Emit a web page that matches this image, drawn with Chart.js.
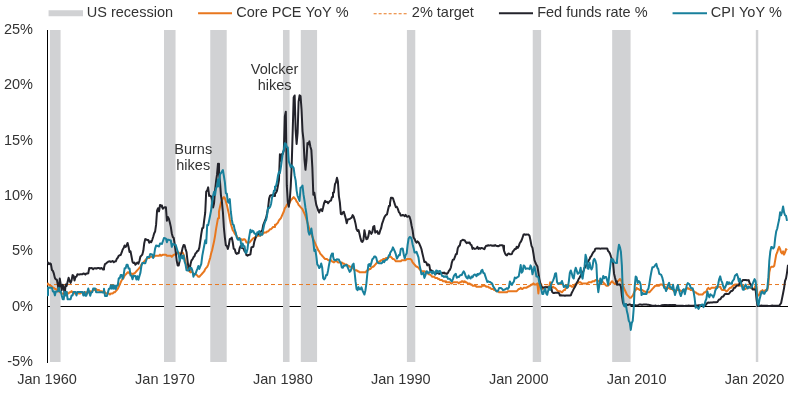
<!DOCTYPE html>
<html>
<head>
<meta charset="utf-8">
<script src="https://cdn.jsdelivr.net/npm/chart.js@4.4.0/dist/chart.umd.min.js"></script>
<style>
  body { margin: 0; background: #fff; }
  #wrap { width: 797px; height: 395px; position: relative; }
</style>
</head>
<body>
<div id="wrap"><canvas id="chart"></canvas></div>
<script>
// Monthly series, first value = Jan 1960
const startYear = 1960;

const fedFunds = [
  3.99, 3.97, 3.84, 3.92, 3.85, 3.32, 3.23, 2.98, 2.60, 2.47, 2.44, 1.98,
  1.45, 2.54, 2.02, 1.49, 1.98, 1.73, 1.17, 2.00, 1.88, 2.26, 2.62, 2.33,
  2.15, 2.37, 2.85, 2.78, 2.36, 2.68, 2.71, 2.93, 2.90, 2.90, 2.94, 2.93,
  2.92, 3.00, 2.98, 2.90, 3.00, 2.99, 3.02, 3.49, 3.48, 3.50, 3.48, 3.38,
  3.48, 3.48, 3.43, 3.47, 3.50, 3.50, 3.42, 3.50, 3.45, 3.36, 3.52, 3.85,
  3.90, 3.98, 4.04, 4.09, 4.10, 4.04, 4.09, 4.12, 4.01, 4.08, 4.10, 4.32,
  4.42, 4.60, 4.65, 4.67, 4.90, 5.17, 5.30, 5.53, 5.40, 5.53, 5.76, 5.40,
  4.94, 5.00, 4.53, 4.05, 3.94, 3.98, 3.79, 3.90, 3.99, 3.88, 4.13, 4.51,
  4.61, 4.71, 5.05, 5.76, 6.11, 6.07, 6.02, 6.03, 5.78, 5.91, 5.82, 6.02,
  6.30, 6.61, 6.79, 7.41, 8.67, 8.90, 8.61, 9.19, 9.15, 9.00, 8.85, 8.97,
  8.98, 8.98, 7.76, 8.10, 7.95, 7.61, 7.21, 6.61, 6.29, 6.20, 5.60, 4.90,
  4.14, 3.72, 3.71, 4.16, 4.63, 4.91, 5.31, 5.57, 5.55, 5.20, 4.91, 4.14,
  3.50, 3.29, 3.83, 4.17, 4.27, 4.46, 4.55, 4.80, 4.87, 5.04, 5.06, 5.33,
  5.94, 6.58, 7.09, 7.12, 7.84, 8.49, 10.40, 10.50, 10.78, 10.01, 10.03, 9.95,
  9.65, 8.97, 9.35, 10.51, 11.31, 11.93, 12.92, 12.01, 11.34, 10.06, 9.45, 8.53,
  7.13, 6.24, 5.54, 5.49, 5.22, 5.55, 6.10, 6.14, 6.24, 5.82, 5.22, 5.20,
  4.87, 4.77, 4.84, 4.82, 5.29, 5.48, 5.31, 5.29, 5.25, 5.02, 4.95, 4.65,
  4.61, 4.68, 4.69, 4.73, 5.35, 5.39, 5.42, 5.90, 6.14, 6.47, 6.51, 6.56,
  6.70, 6.78, 6.79, 6.89, 7.36, 7.60, 7.81, 8.04, 8.45, 8.96, 9.76, 10.03,
  10.07, 10.06, 10.09, 10.01, 10.24, 10.29, 10.47, 10.94, 11.43, 13.77, 13.18, 13.78,
  13.82, 14.13, 17.19, 17.61, 10.98, 9.47, 9.03, 9.61, 10.87, 12.81, 15.85, 18.90,
  19.08, 15.93, 14.70, 15.72, 18.52, 19.10, 19.04, 17.82, 15.87, 15.08, 13.31, 12.37,
  13.22, 14.78, 14.68, 14.94, 14.45, 14.15, 12.59, 10.12, 10.31, 9.71, 9.20, 8.95,
  8.68, 8.51, 8.77, 8.80, 8.63, 8.98, 9.37, 9.56, 9.45, 9.48, 9.34, 9.47,
  9.56, 9.59, 9.91, 10.29, 10.32, 11.06, 11.23, 11.64, 11.30, 9.99, 9.43, 8.38,
  8.35, 8.50, 8.58, 8.27, 7.97, 7.53, 7.88, 7.90, 7.92, 7.99, 8.05, 8.27,
  8.14, 7.86, 7.48, 6.99, 6.85, 6.92, 6.56, 6.17, 5.89, 5.85, 6.04, 6.91,
  6.43, 6.10, 6.13, 6.37, 6.85, 6.73, 6.58, 6.73, 7.22, 7.29, 6.69, 6.77,
  6.83, 6.58, 6.58, 6.87, 7.09, 7.51, 7.75, 8.01, 8.19, 8.30, 8.35, 8.76,
  9.12, 9.36, 9.85, 9.84, 9.81, 9.53, 9.24, 8.99, 9.02, 8.84, 8.55, 8.45,
  8.23, 8.24, 8.28, 8.26, 8.18, 8.29, 8.15, 8.13, 8.20, 8.11, 7.81, 7.31,
  6.91, 6.25, 6.12, 5.91, 5.78, 5.90, 5.82, 5.66, 5.45, 5.21, 4.81, 4.43,
  4.03, 4.06, 3.98, 3.73, 3.82, 3.76, 3.25, 3.30, 3.22, 3.10, 3.09, 2.92,
  3.02, 3.03, 3.07, 2.96, 3.00, 3.04, 3.06, 3.03, 3.09, 2.99, 3.02, 2.96,
  3.05, 3.25, 3.34, 3.56, 4.01, 4.25, 4.26, 4.47, 4.73, 4.76, 5.29, 5.45,
  5.53, 5.92, 5.98, 6.05, 6.01, 6.00, 5.85, 5.74, 5.80, 5.76, 5.80, 5.60,
  5.56, 5.22, 5.31, 5.22, 5.24, 5.27, 5.40, 5.22, 5.30, 5.24, 5.31, 5.29,
  5.25, 5.19, 5.39, 5.51, 5.50, 5.56, 5.52, 5.54, 5.54, 5.50, 5.52, 5.50,
  5.56, 5.51, 5.49, 5.45, 5.49, 5.56, 5.54, 5.55, 5.51, 5.07, 4.83, 4.68,
  4.63, 4.76, 4.81, 4.74, 4.74, 4.76, 4.99, 5.07, 5.22, 5.20, 5.42, 5.30,
  5.45, 5.73, 5.85, 6.02, 6.27, 6.53, 6.54, 6.50, 6.52, 6.51, 6.51, 6.40,
  5.98, 5.49, 5.31, 4.80, 4.21, 3.97, 3.77, 3.65, 3.07, 2.49, 2.09, 1.82,
  1.73, 1.74, 1.73, 1.75, 1.75, 1.75, 1.73, 1.74, 1.75, 1.75, 1.34, 1.24,
  1.24, 1.26, 1.25, 1.26, 1.26, 1.22, 1.01, 1.03, 1.01, 1.01, 1.00, 0.98,
  1.00, 1.01, 1.00, 1.00, 1.00, 1.03, 1.26, 1.43, 1.61, 1.76, 1.93, 2.16,
  2.28, 2.50, 2.63, 2.79, 3.00, 3.04, 3.26, 3.50, 3.62, 3.78, 4.00, 4.16,
  4.29, 4.49, 4.59, 4.79, 4.94, 4.99, 5.24, 5.25, 5.25, 5.25, 5.25, 5.24,
  5.25, 5.26, 5.26, 5.25, 5.25, 5.25, 5.26, 5.02, 4.94, 4.76, 4.49, 4.24,
  3.94, 2.98, 2.61, 2.28, 1.98, 2.00, 2.01, 2.00, 1.81, 0.97, 0.39, 0.16,
  0.15, 0.22, 0.18, 0.15, 0.18, 0.21, 0.16, 0.16, 0.15, 0.12, 0.12, 0.12,
  0.11, 0.13, 0.16, 0.20, 0.20, 0.18, 0.18, 0.19, 0.19, 0.19, 0.19, 0.18,
  0.17, 0.16, 0.14, 0.10, 0.09, 0.09, 0.07, 0.10, 0.08, 0.07, 0.08, 0.07,
  0.08, 0.10, 0.13, 0.14, 0.16, 0.16, 0.16, 0.13, 0.14, 0.16, 0.16, 0.16,
  0.14, 0.15, 0.14, 0.15, 0.11, 0.09, 0.09, 0.08, 0.08, 0.09, 0.08, 0.09,
  0.07, 0.07, 0.08, 0.09, 0.09, 0.10, 0.09, 0.09, 0.09, 0.09, 0.09, 0.12,
  0.11, 0.11, 0.11, 0.12, 0.12, 0.13, 0.13, 0.14, 0.14, 0.12, 0.12, 0.24,
  0.34, 0.38, 0.36, 0.37, 0.37, 0.38, 0.39, 0.40, 0.40, 0.40, 0.41, 0.54,
  0.65, 0.66, 0.79, 0.90, 0.91, 1.04, 1.15, 1.16, 1.15, 1.15, 1.16, 1.30,
  1.41, 1.42, 1.51, 1.69, 1.70, 1.82, 1.91, 1.91, 1.95, 2.19, 2.20, 2.27,
  2.40, 2.40, 2.41, 2.42, 2.39, 2.38, 2.40, 2.13, 2.04, 1.83, 1.55, 1.55,
  1.55, 1.58, 0.65, 0.05, 0.05, 0.08, 0.09, 0.10, 0.09, 0.09, 0.09, 0.09,
  0.09, 0.08, 0.07, 0.07, 0.06, 0.08, 0.10, 0.09, 0.08, 0.08, 0.08, 0.08,
  0.08, 0.08, 0.20, 0.33, 0.77, 1.21, 1.68, 2.33, 2.56, 3.08, 3.78
];

const cpiYoY = [
  1.03, 1.73, 1.73, 1.72, 1.72, 1.72, 1.37, 1.37, 1.02, 1.36, 1.36, 1.36,
  1.71, 1.36, 1.36, 1.01, 0.67, 0.67, 1.34, 1.01, 1.34, 0.67, 0.67, 0.67,
  0.67, 1.00, 1.00, 1.33, 1.33, 1.33, 1.00, 1.33, 1.33, 1.32, 1.32, 1.32,
  1.32, 1.00, 1.32, 0.99, 0.99, 1.31, 1.64, 1.31, 0.98, 1.30, 1.30, 1.64,
  1.64, 1.64, 1.31, 1.31, 1.31, 1.31, 1.30, 1.30, 1.30, 1.29, 1.61, 0.97,
  0.97, 0.97, 1.29, 1.62, 1.62, 1.94, 1.62, 1.94, 1.62, 1.92, 1.60, 1.92,
  1.92, 2.56, 2.56, 2.87, 2.86, 2.53, 2.85, 3.48, 3.48, 3.79, 3.79, 3.46,
  3.46, 2.81, 2.80, 2.48, 2.79, 2.78, 2.77, 2.45, 2.75, 2.43, 2.74, 3.04,
  3.65, 3.95, 3.94, 3.93, 3.92, 4.20, 4.49, 4.48, 4.46, 4.75, 4.74, 4.72,
  4.40, 4.68, 5.25, 5.52, 5.51, 5.48, 5.44, 5.71, 5.70, 5.67, 5.93, 6.20,
  6.18, 6.15, 5.82, 6.06, 6.04, 6.01, 5.98, 5.41, 5.66, 5.64, 5.60, 5.57,
  5.28, 4.99, 4.71, 4.16, 4.40, 4.64, 4.36, 4.62, 4.08, 3.81, 3.28, 3.27,
  3.27, 3.51, 3.50, 3.49, 3.23, 2.71, 2.95, 2.94, 3.19, 3.42, 3.67, 3.41,
  3.65, 3.87, 4.59, 5.06, 5.53, 5.99, 5.73, 7.38, 7.36, 7.80, 8.25, 8.71,
  9.39, 10.02, 10.39, 10.09, 10.71, 10.86, 11.51, 10.86, 11.95, 12.06, 12.20, 12.34,
  11.80, 11.23, 10.25, 10.21, 9.47, 9.39, 9.72, 8.60, 7.91, 7.44, 7.38, 6.94,
  6.72, 6.29, 6.07, 6.05, 6.20, 5.97, 5.35, 5.71, 5.49, 5.46, 4.88, 4.86,
  5.22, 5.91, 6.44, 6.95, 6.73, 6.87, 6.83, 6.62, 6.60, 6.39, 6.72, 6.70,
  6.84, 6.43, 6.55, 6.50, 6.97, 7.41, 7.70, 7.84, 8.31, 8.93, 8.89, 9.02,
  9.28, 9.86, 10.09, 10.49, 10.85, 10.89, 11.26, 11.82, 12.18, 12.07, 12.61, 13.29,
  13.91, 14.18, 14.76, 14.73, 14.41, 14.38, 13.13, 12.87, 12.60, 12.77, 12.65, 12.52,
  11.83, 11.41, 10.49, 10.00, 9.78, 9.55, 10.76, 10.80, 10.95, 10.14, 9.59, 8.92,
  8.39, 7.62, 6.78, 6.51, 6.68, 7.06, 6.44, 5.85, 5.04, 5.14, 4.59, 3.83,
  3.71, 3.49, 3.60, 3.90, 3.55, 2.58, 2.46, 2.56, 2.86, 2.85, 3.27, 3.79,
  4.19, 4.60, 4.80, 4.56, 4.23, 4.22, 4.20, 4.29, 4.27, 4.26, 4.05, 3.95,
  3.53, 3.52, 3.70, 3.69, 3.77, 3.76, 3.55, 3.35, 3.14, 3.23, 3.51, 3.80,
  3.89, 3.11, 2.26, 1.59, 1.49, 1.77, 1.58, 1.57, 1.75, 1.47, 1.28, 1.10,
  1.46, 2.10, 3.03, 3.78, 3.86, 3.65, 3.93, 4.28, 4.36, 4.53, 4.53, 4.43,
  4.05, 3.95, 3.93, 3.93, 3.91, 3.96, 4.13, 4.02, 4.17, 4.25, 4.25, 4.42,
  4.67, 4.83, 4.98, 5.11, 5.36, 5.17, 4.98, 4.72, 4.34, 4.49, 4.66, 4.65,
  5.20, 5.26, 5.23, 4.71, 4.36, 4.67, 4.82, 5.62, 6.16, 6.29, 6.27, 6.11,
  5.65, 5.31, 4.90, 4.89, 4.95, 4.70, 4.45, 3.80, 3.39, 2.92, 2.99, 3.06,
  2.60, 2.82, 3.19, 3.18, 3.02, 3.09, 3.16, 3.15, 2.99, 3.20, 3.05, 2.90,
  3.26, 3.25, 3.09, 3.23, 3.22, 3.00, 2.78, 2.77, 2.69, 2.75, 2.68, 2.75,
  2.52, 2.52, 2.51, 2.36, 2.29, 2.49, 2.77, 2.90, 2.96, 2.61, 2.67, 2.67,
  2.80, 2.86, 2.85, 3.05, 3.19, 3.04, 2.76, 2.62, 2.54, 2.81, 2.61, 2.54,
  2.73, 2.65, 2.84, 2.90, 2.89, 2.75, 2.95, 2.88, 3.00, 2.99, 3.26, 3.32,
  3.04, 3.03, 2.76, 2.50, 2.23, 2.30, 2.23, 2.23, 2.15, 2.08, 1.83, 1.70,
  1.57, 1.44, 1.37, 1.44, 1.69, 1.68, 1.68, 1.62, 1.49, 1.49, 1.55, 1.61,
  1.67, 1.61, 1.73, 2.28, 2.09, 1.96, 2.14, 2.26, 2.63, 2.56, 2.62, 2.68,
  2.74, 3.22, 3.76, 3.07, 3.19, 3.73, 3.66, 3.41, 3.45, 3.45, 3.45, 3.39,
  3.73, 3.53, 2.92, 3.27, 3.62, 3.25, 2.72, 2.72, 2.65, 2.13, 1.90, 1.55,
  1.14, 1.14, 1.48, 1.64, 1.18, 1.07, 1.46, 1.80, 1.51, 2.03, 2.20, 2.38,
  2.60, 2.98, 3.02, 2.22, 2.06, 2.11, 2.11, 2.16, 2.32, 2.04, 1.77, 1.88,
  1.93, 1.69, 1.74, 2.29, 3.05, 3.27, 2.99, 2.65, 2.54, 3.19, 3.52, 3.26,
  2.97, 3.01, 3.15, 3.51, 2.80, 2.53, 3.17, 3.64, 4.69, 4.35, 3.46, 3.42,
  3.99, 3.60, 3.36, 3.55, 4.17, 4.32, 4.15, 3.82, 2.06, 1.31, 1.97, 2.54,
  2.08, 2.42, 2.78, 2.57, 2.69, 2.69, 2.36, 1.97, 2.76, 3.54, 4.31, 4.08,
  4.28, 4.03, 3.98, 3.94, 4.18, 5.02, 5.60, 5.37, 4.94, 3.66, 1.07, 0.09,
  0.03, 0.24, -0.38, -0.74, -1.28, -1.43, -2.10, -1.48, -1.29, -0.18, 1.84, 2.72,
  2.63, 2.14, 2.31, 2.24, 2.02, 1.05, 1.24, 1.15, 1.14, 1.17, 1.14, 1.50,
  1.63, 2.11, 2.68, 3.16, 3.57, 3.56, 3.63, 3.77, 3.87, 3.53, 3.39, 2.96,
  2.93, 2.87, 2.65, 2.30, 1.70, 1.66, 1.41, 1.69, 1.99, 2.16, 1.76, 1.74,
  1.59, 1.98, 1.47, 1.06, 1.36, 1.75, 1.96, 1.52, 1.18, 0.96, 1.24, 1.50,
  1.58, 1.13, 1.51, 1.95, 2.13, 2.07, 1.99, 1.70, 1.66, 1.66, 1.32, 0.76,
  -0.09, -0.03, -0.07, -0.20, -0.04, 0.12, 0.17, 0.20, -0.04, 0.17, 0.50, 0.73,
  1.37, 1.02, 0.85, 1.13, 1.02, 1.01, 0.84, 1.06, 1.46, 1.64, 1.69, 2.07,
  2.50, 2.74, 2.38, 2.20, 1.87, 1.63, 1.73, 1.94, 2.23, 2.04, 2.20, 2.11,
  2.07, 2.21, 2.36, 2.46, 2.80, 2.87, 2.95, 2.70, 2.28, 2.52, 2.18, 1.91,
  1.55, 1.52, 1.86, 2.00, 1.79, 1.65, 1.81, 1.75, 1.71, 1.76, 2.05, 2.29,
  2.49, 2.33, 1.54, 0.33, 0.12, 0.65, 0.99, 1.31, 1.37, 1.18, 1.17, 1.36,
  1.40, 1.68, 2.62, 4.16, 4.99, 5.39, 5.37, 5.25, 5.39, 6.22, 6.81, 7.04,
  7.48, 7.87, 8.54, 8.26, 8.58, 9.06, 8.52, 8.26, 8.20, 7.75
];

const corePceYoY = [
  2.1, 2.0, 2.0, 1.9, 1.9, 1.8, 1.7, 1.7, 1.6, 1.6, 1.5, 1.5,
  1.4, 1.3, 1.3, 1.2, 1.2, 1.1, 1.2, 1.2, 1.3, 1.2, 1.2, 1.3,
  1.3, 1.4, 1.3, 1.3, 1.2, 1.2, 1.2, 1.3, 1.2, 1.2, 1.2, 1.3,
  1.3, 1.2, 1.2, 1.3, 1.3, 1.2, 1.3, 1.3, 1.4, 1.3, 1.4, 1.5,
  1.5, 1.6, 1.6, 1.5, 1.5, 1.5, 1.4, 1.4, 1.4, 1.3, 1.3, 1.3,
  1.2, 1.2, 1.2, 1.2, 1.1, 1.2, 1.2, 1.2, 1.3, 1.3, 1.4, 1.5,
  1.6, 1.8, 2.0, 2.2, 2.4, 2.5, 2.6, 2.8, 2.9, 3.0, 3.1, 3.1,
  3.0, 3.0, 3.0, 2.9, 3.0, 3.0, 3.1, 3.2, 3.3, 3.4, 3.5, 3.6,
  3.8, 3.9, 4.0, 4.1, 4.2, 4.3, 4.4, 4.4, 4.4, 4.5, 4.5, 4.5,
  4.5, 4.5, 4.6, 4.6, 4.6, 4.6, 4.6, 4.7, 4.6, 4.6, 4.7, 4.7,
  4.7, 4.7, 4.6, 4.6, 4.6, 4.6, 4.6, 4.5, 4.6, 4.7, 4.7, 4.8,
  4.9, 4.8, 4.9, 4.8, 4.8, 4.9, 4.9, 4.7, 4.4, 4.0, 3.6, 3.4,
  3.3, 3.2, 3.1, 3.2, 3.1, 3.0, 2.9, 2.9, 2.9, 2.8, 2.7, 2.7,
  2.8, 2.9, 3.0, 3.1, 3.2, 3.4, 3.5, 3.6, 3.8, 4.1, 4.4, 4.8,
  5.1, 5.5, 5.9, 6.4, 7.0, 7.5, 8.0, 8.6, 9.0, 9.4, 9.6, 9.8,
  9.9, 9.8, 9.5, 9.2, 8.8, 8.4, 7.9, 7.5, 7.2, 6.9, 6.8, 6.6,
  6.5, 6.4, 6.2, 6.2, 6.1, 6.1, 6.1, 6.0, 6.1, 6.1, 6.0, 5.8,
  5.8, 5.8, 5.8, 5.9, 6.0, 6.1, 6.2, 6.2, 6.3, 6.3, 6.4, 6.4,
  6.4, 6.4, 6.5, 6.6, 6.6, 6.7, 6.7, 6.7, 6.8, 6.8, 6.9, 7.0,
  7.0, 7.1, 7.2, 7.2, 7.4, 7.4, 7.5, 7.6, 7.8, 7.9, 8.0, 8.2,
  8.4, 8.6, 8.9, 9.0, 9.2, 9.3, 9.3, 9.4, 9.6, 9.7, 9.8, 9.9,
  9.8, 9.7, 9.5, 9.4, 9.2, 9.1, 9.0, 8.9, 8.8, 8.6, 8.4, 8.2,
  7.9, 7.6, 7.3, 7.0, 6.8, 6.6, 6.3, 6.1, 5.9, 5.7, 5.5, 5.3,
  5.1, 5.0, 4.8, 4.7, 4.6, 4.5, 4.4, 4.3, 4.3, 4.3, 4.2, 4.2,
  4.2, 4.2, 4.1, 4.1, 4.0, 4.1, 4.1, 4.1, 4.0, 4.0, 4.0, 4.0,
  4.0, 3.9, 3.9, 3.8, 3.8, 3.8, 3.7, 3.7, 3.6, 3.6, 3.6, 3.5,
  3.4, 3.3, 3.3, 3.3, 3.2, 3.2, 3.1, 3.1, 3.1, 3.1, 3.1, 3.1,
  3.1, 3.2, 3.3, 3.3, 3.4, 3.4, 3.5, 3.6, 3.6, 3.7, 3.8, 3.9,
  4.0, 4.0, 4.1, 4.1, 4.2, 4.2, 4.3, 4.3, 4.3, 4.4, 4.4, 4.4,
  4.5, 4.5, 4.5, 4.4, 4.3, 4.3, 4.2, 4.1, 4.1, 4.1, 4.1, 4.1,
  4.1, 4.2, 4.2, 4.2, 4.2, 4.2, 4.3, 4.3, 4.3, 4.3, 4.3, 4.2,
  4.0, 3.9, 3.8, 3.7, 3.6, 3.6, 3.5, 3.4, 3.3, 3.2, 3.2, 3.2,
  3.2, 3.1, 3.1, 3.0, 3.0, 2.9, 2.9, 2.8, 2.7, 2.7, 2.7, 2.6,
  2.6, 2.6, 2.5, 2.5, 2.4, 2.4, 2.4, 2.3, 2.3, 2.3, 2.2, 2.2,
  2.2, 2.2, 2.2, 2.1, 2.1, 2.2, 2.2, 2.2, 2.2, 2.2, 2.2, 2.1,
  2.2, 2.2, 2.3, 2.3, 2.2, 2.3, 2.2, 2.2, 2.1, 2.1, 2.1, 2.0,
  2.0, 1.9, 1.9, 1.9, 1.9, 1.8, 1.8, 1.8, 1.8, 1.8, 1.8, 1.9,
  1.9, 1.9, 1.9, 1.8, 1.8, 1.8, 1.7, 1.7, 1.6, 1.6, 1.6, 1.5,
  1.5, 1.4, 1.4, 1.4, 1.3, 1.3, 1.3, 1.3, 1.3, 1.3, 1.3, 1.3,
  1.3, 1.4, 1.4, 1.4, 1.4, 1.4, 1.4, 1.4, 1.4, 1.4, 1.4, 1.5,
  1.6, 1.6, 1.7, 1.6, 1.6, 1.7, 1.7, 1.7, 1.7, 1.8, 1.8, 1.9,
  1.9, 2.0, 2.0, 2.1, 2.0, 2.0, 2.0, 2.1, 1.2, 2.1, 2.1, 2.0,
  1.6, 1.7, 1.6, 1.8, 1.8, 1.8, 1.8, 1.8, 2.2, 1.7, 1.8, 1.8,
  1.7, 1.7, 1.6, 1.5, 1.4, 1.4, 1.4, 1.4, 1.3, 1.4, 1.5, 1.5,
  1.7, 1.7, 1.8, 1.9, 1.9, 1.9, 1.8, 1.8, 1.9, 2.0, 2.0, 2.1,
  2.1, 2.2, 2.2, 2.2, 2.1, 2.1, 2.1, 2.1, 2.1, 2.1, 2.1, 2.2,
  2.2, 2.2, 2.2, 2.3, 2.3, 2.3, 2.4, 2.4, 2.4, 2.3, 2.3, 2.3,
  2.4, 2.3, 2.2, 2.1, 2.0, 1.9, 1.9, 1.9, 2.0, 2.1, 2.2, 2.3,
  2.2, 2.1, 2.1, 2.1, 2.2, 2.3, 2.4, 2.5, 2.4, 2.2, 1.9, 1.7,
  1.5, 1.3, 1.1, 1.0, 0.9, 0.8, 0.8, 0.9, 1.0, 1.2, 1.4, 1.5,
  1.7, 1.6, 1.6, 1.5, 1.5, 1.5, 1.5, 1.4, 1.4, 1.3, 1.3, 1.3,
  1.3, 1.3, 1.4, 1.5, 1.6, 1.7, 1.8, 1.9, 1.9, 1.9, 1.9, 1.9,
  2.0, 2.0, 2.0, 1.9, 1.8, 1.8, 1.7, 1.6, 1.7, 1.7, 1.6, 1.6,
  1.6, 1.5, 1.4, 1.3, 1.4, 1.5, 1.5, 1.5, 1.5, 1.4, 1.4, 1.5,
  1.4, 1.5, 1.6, 1.6, 1.7, 1.6, 1.6, 1.5, 1.5, 1.5, 1.4, 1.3,
  1.3, 1.2, 1.2, 1.1, 1.1, 1.1, 1.1, 1.1, 1.2, 1.3, 1.3, 1.4,
  1.6, 1.7, 1.6, 1.6, 1.7, 1.7, 1.7, 1.7, 1.7, 1.8, 1.8, 1.8,
  1.8, 1.8, 1.6, 1.5, 1.5, 1.5, 1.5, 1.4, 1.4, 1.5, 1.6, 1.7,
  1.7, 1.7, 1.9, 1.9, 2.0, 2.0, 2.0, 2.0, 1.9, 1.9, 1.9, 2.0,
  1.9, 1.7, 1.6, 1.6, 1.7, 1.7, 1.7, 1.8, 1.7, 1.7, 1.6, 1.6,
  1.7, 1.9, 1.8, 1.0, 1.0, 1.1, 1.4, 1.4, 1.5, 1.4, 1.4, 1.5,
  1.5, 1.5, 2.0, 3.1, 3.5, 3.6, 3.6, 3.6, 3.7, 4.2, 4.7, 4.9,
  5.2, 5.4, 5.2, 4.9, 4.8, 5.0, 4.7, 4.9, 5.2, 5.1
];

const inflationTarget = 2;

// NBER recessions, first and last month
const recessions = [
  ['1960-04', '1961-02'], ['1969-12', '1970-11'], ['1973-11', '1975-03'],
  ['1980-01', '1980-07'], ['1981-07', '1982-11'], ['1990-07', '1991-03'],
  ['2001-03', '2001-11'], ['2007-12', '2009-06'], ['2020-02', '2020-04']
];

const xTickYears = [1960, 1970, 1980, 1990, 2000, 2010, 2020];
const yMin = -5, yMax = 25, yStep = 5;
const xMin = 1960, xMax = 2022 + 10 / 12;

const colors = {
    recession: '#d1d2d4',
    pce: '#e8771e',
    fed: '#23232b',
    cpi: '#18809c',
    text: '#333333'
};

const fontFamily = '"Liberation Sans", Arial, sans-serif';
const fontSize = 14.5;

function toMonthly(values) {
    return values.map((v, i) => ({ x: startYear + i / 12, y: v }));
}

function monthToYear(s, endOfMonth) {
    const [y, m] = s.split('-').map(Number);
    return y + (endOfMonth ? m : m - 1) / 12;
}

const recessionPoints = [];
recessions.forEach(([from, to]) => {
    const a = monthToYear(from, false);
    const b = monthToYear(to, true);
    recessionPoints.push({ x: a, y: yMax }, { x: b, y: yMax }, { x: b, y: null });
});

// legend swatches as small canvases (the visible mark sits on the right, next to the text)
function swatch(kind, color) {
    const c = document.createElement('canvas');
    c.width = 56;
    c.height = 10;
    const g = c.getContext('2d');
    g.fillStyle = color;
    g.strokeStyle = color;
    if (kind === 'box') {
        g.fillRect(22, 2, 34, 6);
    } else if (kind === 'dash') {
        g.lineWidth = 1;
        g.setLineDash([3, 2]);
        g.beginPath();
        g.moveTo(22, 5.5);
        g.lineTo(56, 5.5);
        g.stroke();
    } else {
        g.fillRect(22, 4, 34, 2);
    }
    return c;
}

const notes = [
    { lines: ['Burns', 'hikes'], x: 1972.4, y: 14.2 },
    { lines: ['Volcker', 'hikes'], x: 1979.3, y: 21.4 }
];

const notesPlugin = {
    id: 'notes',
    afterDatasetsDraw(chart) {
        const { ctx, scales } = chart;
        ctx.save();
        ctx.fillStyle = colors.text;
        ctx.font = fontSize + 'px ' + fontFamily;
        ctx.textAlign = 'center';
        ctx.textBaseline = 'middle';
        notes.forEach(n => {
            const px = scales.x.getPixelForValue(n.x);
            const py = scales.y.getPixelForValue(n.y);
            n.lines.forEach((t, i) => ctx.fillText(t, px, py + i * 16));
        });
        ctx.restore();
    }
};

const legendHeight = {
    id: 'legendHeight',
    beforeInit(chart) {
        const fit = chart.legend.fit;
        chart.legend.fit = function () {
            fit.call(this);
            this.height = 30;
        };
    }
};

const legendOrder = [0, 1, 2, 3, 4];
const swatches = [
    swatch('box', colors.recession),
    swatch('line', colors.pce),
    swatch('dash', colors.pce),
    swatch('line', colors.fed),
    swatch('line', colors.cpi)
];

const lineBase = {
    type: 'line',
    pointRadius: 0,
    borderWidth: 2,
    tension: 0,
    fill: false,
    borderJoinStyle: 'round'
};

Chart.defaults.font.family = fontFamily;
Chart.defaults.font.size = fontSize;
Chart.defaults.color = colors.text;

new Chart(document.getElementById('chart'), {
    type: 'line',
    data: {
        datasets: [
            {
                label: 'US recession',
                data: recessionPoints,
                type: 'line',
                backgroundColor: colors.recession,
                borderColor: colors.recession,
                borderWidth: 0,
                pointRadius: 0,
                fill: 'start',
                spanGaps: false,
                order: 5
            },
            {
                ...lineBase,
                label: 'Core PCE YoY %',
                data: toMonthly(corePceYoY),
                borderColor: colors.pce,
                order: 3
            },
            {
                ...lineBase,
                label: '2% target',
                data: [{ x: xMin, y: inflationTarget }, { x: xMax, y: inflationTarget }],
                borderColor: colors.pce,
                borderWidth: 1,
                borderDash: [4, 3],
                order: 4
            },
            {
                ...lineBase,
                label: 'Fed funds rate %',
                data: toMonthly(fedFunds),
                borderColor: colors.fed,
                order: 2
            },
            {
                ...lineBase,
                label: 'CPI YoY %',
                data: toMonthly(cpiYoY),
                borderColor: colors.cpi,
                order: 1
            }
        ]
    },
    options: {
        responsive: true,
        maintainAspectRatio: false,
        animation: false,
        layout: {
            padding: { left: 0, right: 9, top: 0, bottom: 7 }
        },
        plugins: {
            tooltip: { enabled: false },
            legend: {
                position: 'top',
                align: 'end',
                labels: {
                    usePointStyle: true,
                    pointStyleWidth: 50,
                    padding: 6,
                    color: colors.text,
                    font: { size: fontSize },
                    generateLabels: chart => legendOrder.map(i => ({
                        text: chart.data.datasets[i].label,
                        pointStyle: swatches[i],
                        datasetIndex: i,
                        hidden: false,
                        lineWidth: 0,
                        fillStyle: 'transparent',
                        strokeStyle: 'transparent',
                        fontColor: colors.text
                    }))
                }
            }
        },
        scales: {
            x: {
                type: 'linear',
                min: xMin,
                max: xMax,
                border: { display: false },
                grid: { display: false, drawTicks: false },
                afterFit: scale => { scale.height = 26; },
                afterBuildTicks: scale => {
                    scale.ticks = xTickYears.map(v => ({ value: v }));
                },
                ticks: {
                    padding: 9,
                    maxRotation: 0,
                    autoSkip: false,
                    color: colors.text,
                    callback: v => 'Jan ' + v
                }
            },
            y: {
                min: yMin,
                max: yMax,
                afterFit: scale => { scale.width = 47; },
                border: { display: true, color: '#000', width: 1 },
                grid: {
                    drawTicks: false,
                    color: ctx => (ctx.tick && ctx.tick.value === 0 ? '#000' : 'rgba(0,0,0,0)'),
                    lineWidth: 1
                },
                ticks: {
                    stepSize: yStep,
                    padding: 14,
                    color: colors.text,
                    callback: v => v + '%'
                }
            }
        }
    },
    plugins: [legendHeight, notesPlugin]
});
</script>
</body>
</html>
